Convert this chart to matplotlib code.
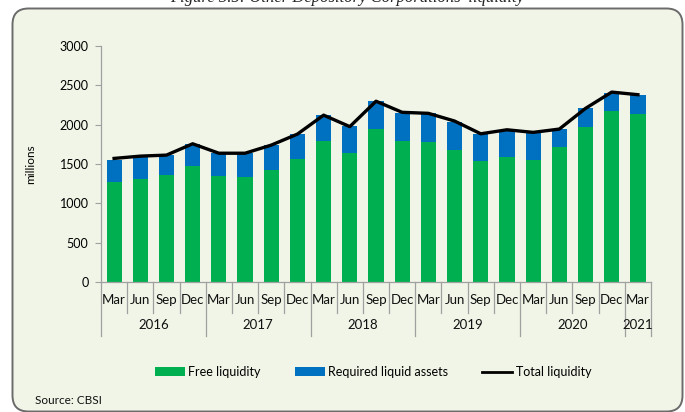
import matplotlib
matplotlib.use("Agg")
import matplotlib.pyplot as plt
from matplotlib.patches import FancyBboxPatch, Patch
from matplotlib.lines import Line2D
import matplotlib.transforms as mtransforms

months = ["Mar", "Jun", "Sep", "Dec"] * 5 + ["Mar"]
years = ["2016", "2017", "2018", "2019", "2020", "2021"]
free_liquidity = [1265, 1303, 1354, 1473, 1342, 1329, 1418, 1558, 1787, 1642, 1944,
                  1795, 1774, 1673, 1533, 1587, 1549, 1715, 1969, 2169, 2139]
required_liquid = [284, 288, 255, 284, 292, 305, 318, 322, 331, 340, 352,
                   356, 370, 360, 343, 344, 353, 229, 238, 237, 234]
total_liquidity = [1571, 1600, 1613, 1757, 1637, 1637, 1740, 1880, 2121, 1975, 2298,
                   2157, 2144, 2046, 1884, 1935, 1902, 1944, 2207, 2414, 2381]

W, H = 685, 412
fig = plt.figure(figsize=(W / 100, H / 100), dpi=100)
fig.patch.set_facecolor("white")
bg = "#f1f5e7"
FONT = "Lato"

# rounded frame (display pixel coords)
box = FancyBboxPatch((12.5, 0.5), 670, 403, boxstyle="round,pad=0,rounding_size=16",
                     transform=None, facecolor=bg, edgecolor="#6b6b6b", linewidth=1.4,
                     zorder=-5)
fig.patches.append(box)

fig.text(347 / W, 1 - 2.5 / H, "Figure 3.5: Other Depository Corporations' liquidity",
         ha="center", va="baseline", fontsize=12, style="italic",
         family="Liberation Serif", color="#222222")

ax = fig.add_axes([101 / W, 1 - 282 / H, 550 / W, 236 / H])
ax.set_zorder(2)
ax.set_facecolor("none")
n = len(months)
x = list(range(n))
ax.bar(x, free_liquidity, width=0.58, color="#00b050", zorder=2)
ax.bar(x, required_liquid, width=0.58, bottom=free_liquidity, color="#0070c0", zorder=2)
ax.plot(x, total_liquidity, color="black", linewidth=2.4, zorder=3)

ax.set_xlim(-0.5, n - 0.5)
ax.set_ylim(0, 3000)
ax.set_yticks(range(0, 3001, 500))
ax.tick_params(axis="y", length=4, color="#a0a0a0", labelsize=9, pad=5)
for lab in ax.get_yticklabels():
    lab.set_family(FONT)
ax.set_xticks([])
for s in ["top", "right"]:
    ax.spines[s].set_visible(False)
for s in ["left", "bottom"]:
    ax.spines[s].set_color("#a0a0a0")
    ax.spines[s].set_linewidth(0.9)
ax.set_ylabel("millions", fontsize=8.5, family=FONT)
ax.yaxis.set_label_coords(-0.118, 0.5)

trans = mtransforms.blended_transform_factory(ax.transData, ax.transAxes)
y_month = (282 - 300) / 236
y_msep = (282 - 313) / 236
y_year = (282 - 325) / 236
y_ysep = (282 - 336) / 236
for i, m in enumerate(months):
    ax.text(i, y_month, m, transform=trans, ha="center", va="center", fontsize=9.5,
            family=FONT, color="#111111")
# separators
year_starts = [0, 4, 8, 12, 16, 20, 21]
for b in range(n + 1):
    bottom = y_ysep if b in year_starts else y_msep
    ax.plot([b - 0.5, b - 0.5], [0, bottom], transform=trans, color="#a0a0a0",
            linewidth=0.9, clip_on=False)
for k, yr in enumerate(years):
    s, e = year_starts[k], year_starts[k + 1]
    ax.text((s + e - 1) / 2, y_year, yr, transform=trans, ha="center", va="center",
            fontsize=9.5, family=FONT, color="#111111")

handles = [Patch(facecolor="#00b050", label="Free liquidity"),
           Patch(facecolor="#0070c0", label="Required liquid assets"),
           Line2D([0], [0], color="black", linewidth=2, label="Total liquidity")]
fig.legend(handles=handles, loc="center", bbox_to_anchor=(373 / W, 1 - 372 / H), ncol=3,
           frameon=False, prop={"family": FONT, "size": 9}, handlelength=2.4,
           handleheight=0.7, handletextpad=0.3, columnspacing=2.7)

fig.text(35 / W, 1 - 400 / H, "Source: CBSI", ha="left", va="center", fontsize=8.5,
         family=FONT, color="#111111")

fig.savefig("out.png", dpi=100, facecolor="white")
